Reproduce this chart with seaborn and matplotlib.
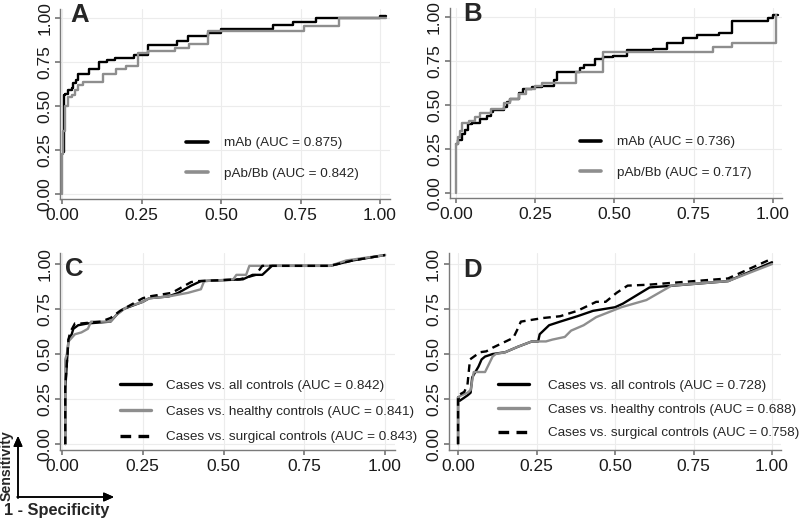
import matplotlib
matplotlib.use('Agg')
import matplotlib.pyplot as plt
from matplotlib.ticker import FormatStrFormatter
import seaborn as sns

# ---- data (1 - specificity, sensitivity) ----
# Panel A: step ROC curves
a_mab_fpr = [0.005, 0.005, 0.01, 0.02, 0.03, 0.035, 0.045, 0.05, 0.085, 0.115, 0.14, 0.165,
             0.225, 0.27, 0.36, 0.395, 0.46, 0.50, 0.545, 0.665, 0.725, 0.80, 1.00, 1.02]
a_mab_tpr = [0.24, 0.56, 0.57, 0.59, 0.60, 0.63, 0.65, 0.68, 0.71, 0.75, 0.76, 0.775,
             0.79, 0.845, 0.87, 0.90, 0.915, 0.935, 0.94, 0.96, 0.98, 1.00, 1.01, 1.01]
a_pab_fpr = [0.0, 0.0, 0.004, 0.01, 0.02, 0.03, 0.04, 0.05, 0.065, 0.13, 0.17, 0.20,
             0.24, 0.27, 0.355, 0.40, 0.46, 0.76, 0.87, 1.02]
a_pab_tpr = [0.0, 0.23, 0.36, 0.50, 0.55, 0.56, 0.59, 0.62, 0.635, 0.68, 0.71, 0.73,
             0.80, 0.815, 0.83, 0.855, 0.925, 0.955, 1.00, 1.00]

# Panel B: step ROC curves
b_mab_fpr = [0.0, 0.007, 0.018, 0.028, 0.039, 0.05, 0.076, 0.097, 0.11, 0.118, 0.15, 0.16,
             0.17, 0.20, 0.212, 0.24, 0.27, 0.31, 0.32, 0.39, 0.405, 0.44, 0.465, 0.495,
             0.54, 0.62, 0.665, 0.715, 0.76, 0.83, 0.87, 0.985, 1.0, 1.015]
b_mab_tpr = [0.28, 0.30, 0.335, 0.36, 0.39, 0.40, 0.42, 0.44, 0.46, 0.47, 0.49, 0.515,
             0.535, 0.57, 0.59, 0.60, 0.61, 0.64, 0.69, 0.71, 0.73, 0.76, 0.77, 0.78,
             0.81, 0.82, 0.855, 0.88, 0.897, 0.91, 0.977, 0.996, 1.01, 1.01]
b_pab_fpr = [0.0, 0.0, 0.005, 0.012, 0.02, 0.04, 0.06, 0.076, 0.11, 0.15, 0.17, 0.20,
             0.22, 0.25, 0.27, 0.38, 0.465, 0.81, 0.87, 1.01]
b_pab_tpr = [0.0, 0.28, 0.32, 0.355, 0.395, 0.41, 0.43, 0.455, 0.48, 0.51, 0.535, 0.565,
             0.59, 0.61, 0.625, 0.69, 0.80, 0.83, 0.855, 1.01]

# Panel C: cases vs. control groups
c_all_fpr = [0.01, 0.01, 0.015, 0.02, 0.03, 0.035, 0.05, 0.08, 0.15, 0.17, 0.19, 0.22, 0.25,
             0.27, 0.33, 0.36, 0.40, 0.43, 0.56, 0.59, 0.62, 0.65, 0.83, 0.90, 1.00]
c_all_tpr = [0.0, 0.30, 0.45, 0.58, 0.61, 0.64, 0.66, 0.67, 0.68, 0.72, 0.75, 0.77, 0.79,
             0.81, 0.82, 0.84, 0.88, 0.905, 0.915, 0.94, 0.94, 0.99, 0.99, 1.02, 1.05]
c_hea_fpr = [0.01, 0.01, 0.015, 0.02, 0.04, 0.06, 0.08, 0.09, 0.15, 0.17, 0.20, 0.25, 0.27,
             0.33, 0.39, 0.43, 0.44, 0.53, 0.54, 0.57, 0.58, 0.83, 0.88, 1.00]
c_hea_tpr = [0.0, 0.47, 0.50, 0.57, 0.61, 0.62, 0.64, 0.68, 0.68, 0.72, 0.76, 0.79, 0.81,
             0.82, 0.84, 0.86, 0.905, 0.915, 0.94, 0.94, 0.99, 0.99, 1.02, 1.05]
c_sur_fpr = [0.01, 0.01, 0.02, 0.025, 0.04, 0.06, 0.12, 0.15, 0.18, 0.21, 0.25, 0.27, 0.34,
             0.36, 0.40, 0.42, 0.55, 0.60, 0.62, 0.83, 0.90, 1.00]
c_sur_tpr = [0.0, 0.32, 0.58, 0.62, 0.67, 0.67, 0.68, 0.70, 0.74, 0.77, 0.81, 0.82, 0.84,
             0.86, 0.90, 0.905, 0.915, 0.94, 0.99, 0.99, 1.02, 1.05]

# Panel D
d_all_fpr = [0.0, 0.0, 0.005, 0.03, 0.04, 0.045, 0.065, 0.075, 0.086, 0.11, 0.15, 0.19,
             0.235, 0.255, 0.26, 0.29, 0.325, 0.38, 0.43, 0.50, 0.525, 0.61, 0.685, 0.86, 1.0]
d_all_tpr = [0.0, 0.26, 0.24, 0.27, 0.285, 0.37, 0.43, 0.47, 0.486, 0.50, 0.51, 0.54,
             0.57, 0.57, 0.61, 0.66, 0.68, 0.71, 0.74, 0.76, 0.78, 0.87, 0.88, 0.905, 1.01]
d_hea_fpr = [0.0, 0.0, 0.01, 0.03, 0.04, 0.05, 0.086, 0.11, 0.12, 0.15, 0.19, 0.235, 0.28,
             0.30, 0.34, 0.36, 0.40, 0.44, 0.52, 0.60, 0.68, 0.86, 1.0]
d_hea_tpr = [0.0, 0.26, 0.27, 0.285, 0.30, 0.40, 0.40, 0.486, 0.50, 0.51, 0.54, 0.57, 0.57,
             0.58, 0.595, 0.63, 0.66, 0.705, 0.76, 0.80, 0.88, 0.905, 1.00]
d_sur_fpr = [0.0, 0.0, 0.02, 0.03, 0.038, 0.054, 0.07, 0.09, 0.11, 0.14, 0.176, 0.19, 0.20,
             0.27, 0.325, 0.38, 0.44, 0.47, 0.505, 0.54, 0.605, 0.86, 1.0]
d_sur_tpr = [0.0, 0.27, 0.29, 0.33, 0.47, 0.49, 0.51, 0.515, 0.535, 0.56, 0.59, 0.64, 0.68,
             0.70, 0.71, 0.74, 0.79, 0.79, 0.84, 0.88, 0.885, 0.92, 1.03]

ab_labels = {"A": ["mAb (AUC = 0.875)", "pAb/Bb (AUC = 0.842)"],
             "B": ["mAb (AUC = 0.736)", "pAb/Bb (AUC = 0.717)"]}
cd_labels = {"C": ["Cases vs. all controls (AUC = 0.842)",
                   "Cases vs. healthy controls (AUC = 0.841)",
                   "Cases vs. surgical controls (AUC = 0.843)"],
             "D": ["Cases vs. all controls (AUC = 0.728)",
                   "Cases vs. healthy controls (AUC = 0.688)",
                   "Cases vs. surgical controls (AUC = 0.758)"]}
ticks = [0, 0.25, 0.5, 0.75, 1.0]

BLACK = "#000000"
GREY = "#8e8e8e"

sns.set_theme(style="ticks", rc={
    "axes.grid": True,
    "grid.color": "#ececec",
    "grid.linewidth": 0.8,
    "axes.edgecolor": "#7a7a7a",
    "axes.linewidth": 1.0,
    "xtick.color": "#7a7a7a",
    "ytick.color": "#7a7a7a",
    "xtick.labelcolor": "#1a1a1a",
    "ytick.labelcolor": "#1a1a1a",
    "xtick.major.size": 3.5,
    "ytick.major.size": 3.5,
})
plt.rcParams["font.family"] = ["Liberation Sans", "DejaVu Sans"]

fig = plt.figure(figsize=(8, 5.2), dpi=100)

# axes rects (figure fractions) and limits, per panel
panels = {
    "A": ([0.0748, 0.6167, 0.4121, 0.3656], (-0.007, 1.03), (-0.03, 1.05)),
    "B": ([0.5621, 0.6187, 0.4160, 0.3655], (-0.02, 1.03), (-0.03, 1.05)),
    "C": ([0.0755, 0.1340, 0.4179, 0.3790], (-0.005, 1.03), (-0.035, 1.06)),
    "D": ([0.5608, 0.1340, 0.4160, 0.3790], (-0.03, 1.03), (-0.035, 1.06)),
}
axes = {}
for key, (rect, xl, yl) in panels.items():
    ax = fig.add_axes(rect)
    ax.set_xlim(*xl)
    ax.set_ylim(*yl)
    axes[key] = ax

lw = 1.7

# A and B: step curves
for key, (m_x, m_y, p_x, p_y) in {
        "A": (a_mab_fpr, a_mab_tpr, a_pab_fpr, a_pab_tpr),
        "B": (b_mab_fpr, b_mab_tpr, b_pab_fpr, b_pab_tpr)}.items():
    ax = axes[key]
    sns.lineplot(x=m_x, y=m_y, ax=ax, estimator=None, sort=False, drawstyle="steps-post",
                 color=BLACK, lw=lw, label=ab_labels[key][0])
    sns.lineplot(x=p_x, y=p_y, ax=ax, estimator=None, sort=False, drawstyle="steps-post",
                 color=GREY, lw=lw, label=ab_labels[key][1])
    leg = ax.legend(loc="upper left", bbox_to_anchor=(0.39, 0.325),
                    bbox_transform=ax.transData, frameon=False, fontsize=9.7,
                    handlelength=1.6, handletextpad=1.2, labelspacing=1.35,
                    borderpad=0, borderaxespad=0)
    for ln in leg.get_lines():
        ln.set_linewidth(2.6)

# C and D: three comparisons
for key, series, anchor, tpad in [
        ("C", [(c_all_fpr, c_all_tpr), (c_hea_fpr, c_hea_tpr), (c_sur_fpr, c_sur_tpr)],
         (0.18, 0.36), 1.1),
        ("D", [(d_all_fpr, d_all_tpr), (d_hea_fpr, d_hea_tpr), (d_sur_fpr, d_sur_tpr)],
         (0.128, 0.36), 1.4)]:
    ax = axes[key]
    styles = [(BLACK, "-"), (GREY, "-"), (BLACK, (0, (3.2, 2.2)))]
    for (fx, fy), (col, ls), lab in zip(series, styles, cd_labels[key]):
        sns.lineplot(x=fx, y=fy, ax=ax, estimator=None, sort=False,
                     color=col, lw=lw, linestyle=ls, label=lab)
    leg = ax.legend(loc="upper left", bbox_to_anchor=anchor,
                    bbox_transform=ax.transData, frameon=False, fontsize=9.7,
                    handlelength=2.3, handletextpad=tpad,
                    labelspacing=1.0 if key == "C" else 0.85,
                    borderpad=0, borderaxespad=0)
    for ln in leg.get_lines():
        ln.set_linewidth(2.4)

letter_pos = {"A": (0.025, 0.975), "B": (0.022, 0.975), "C": (0.01, 0.935), "D": (0.016, 0.93)}
for key, ax in axes.items():
    ax.set_xticks(ticks)
    ax.set_yticks(ticks)
    ax.xaxis.set_major_formatter(FormatStrFormatter("%.2f"))
    ax.yaxis.set_major_formatter(FormatStrFormatter("%.2f"))
    ax.tick_params(axis="x", labelsize=12.5, pad=3)
    ax.tick_params(axis="y", labelsize=12.5, pad=2)
    for lbl in ax.get_yticklabels():
        lbl.set_rotation(90)
        lbl.set_va("center")
    ax.set_xlabel("")
    ax.set_ylabel("")
    sns.despine(ax=ax)
    lx, ly = letter_pos[key]
    ax.text(lx, ly, key, transform=ax.transData, fontsize=18.5, fontweight="bold",
            ha="left", va="baseline", clip_on=False)

# axis key in the bottom-left corner
x0, y0 = 18 / 800, 1 - 497 / 520
fig.add_artist(plt.annotate("", xy=(x0, 1 - 436 / 520), xytext=(x0, y0 - 0.002),
                            xycoords="figure fraction",
                            arrowprops=dict(arrowstyle="-|>,head_length=0.5,head_width=0.22",
                                            color="black", lw=1.1, shrinkA=0, shrinkB=0)))
fig.add_artist(plt.annotate("", xy=(114 / 800, y0), xytext=(x0 - 0.001, y0),
                            xycoords="figure fraction",
                            arrowprops=dict(arrowstyle="-|>,head_length=0.5,head_width=0.22",
                                            color="black", lw=1.1, shrinkA=0, shrinkB=0)))
fig.text(7 / 800, 1 - 466 / 520, "Sensitivity", rotation=90, fontsize=10.2,
         fontweight="bold", ha="center", va="center")
fig.text(57 / 800, 1 - 511 / 520, "1 - Specificity", fontsize=11.8,
         fontweight="bold", ha="center", va="center")

fig.savefig("out.png", dpi=100)
